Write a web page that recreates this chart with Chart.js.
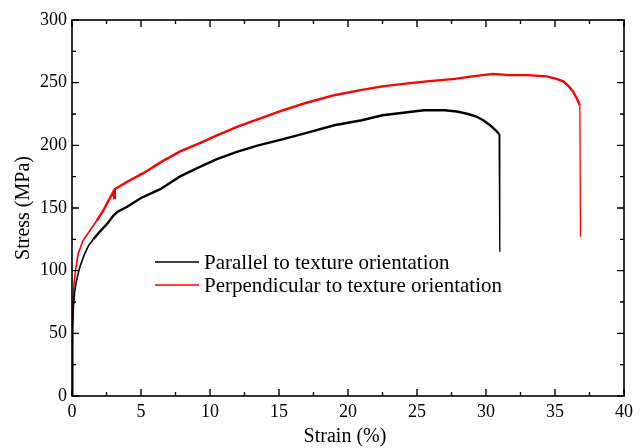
<!DOCTYPE html>
<html>
<head>
<meta charset="utf-8">
<script src="https://cdn.jsdelivr.net/npm/chart.js@4.4.0/dist/chart.umd.min.js"></script>
<style>
  html, body { margin: 0; padding: 0; background: #fff; }
  #wrap { width: 643px; height: 448px; }
</style>
</head>
<body>
<div id="wrap"><canvas id="chart" width="643" height="448"></canvas></div>
<script>
// Series (strain %, stress MPa)
const parallelStrain = [0, 0.03, 0.06, 0.1, 0.18, 0.29, 0.45, 0.6, 0.9, 1.2, 1.55, 2.0, 2.6, 3.0, 3.3, 4.0, 5.0, 6.4, 7.8, 9.3, 10.5, 12.0, 13.5, 15.3, 17.0, 19.0, 21.0, 22.5, 24.0, 25.5, 27.0, 27.9, 28.7, 29.3, 29.8, 30.3, 30.7, 30.95, 31.0];
const parallelStress = [0, 30, 55, 71, 82, 90, 98, 104, 113, 120, 125, 131, 138, 144, 147, 151, 158, 165, 175, 183, 189, 195, 200, 205, 210, 216, 220, 224, 226, 228, 228, 227, 225, 223, 220, 216, 212, 209, 115];

const perpStrain = [0, 0.03, 0.08, 0.15, 0.25, 0.46, 0.8, 1.3, 1.8, 2.27, 2.7, 3.0, 3.05, 3.1, 4.0, 5.2, 6.5, 7.8, 9.3, 10.5, 12.0, 13.5, 15.3, 17.0, 19.0, 20.9, 22.5, 24.0, 25.7, 27.75, 29.0, 30.5, 31.7, 33.0, 34.4, 35.1, 35.6, 36.0, 36.3, 36.6, 36.8, 36.85];
const perpStress = [0, 40, 75, 90, 100, 114, 124, 132, 140, 148, 157, 163, 158, 165, 171, 178, 187, 195, 202, 208, 215, 221, 228, 234, 240, 244, 247, 249, 251, 253, 255, 257, 256, 256, 255, 253, 251, 247, 243, 237, 232, 127];

const seriesNames = ['Parallel to texture orientation', 'Perpendicular to texture orientation'];
const seriesColors = ['#000000', '#ff0000'];

const xTitle = 'Strain (%)';
const yTitle = 'Stress (MPa)';

const FONT = "'Liberation Serif', 'Times New Roman', serif";
Chart.defaults.font.family = FONT;
Chart.defaults.color = '#000';

function toPoints(xs, ys) {
    return xs.map((x, i) => ({ x: x, y: ys[i] }));
}

// thin line for the elastic start and the fracture drop, thicker for the noisy part
function segWidth(ctx) {
    const a = ctx.p0.parsed, b = ctx.p1.parsed;
    if (Math.abs(b.x - a.x) < 0.08 && Math.abs(b.y - a.y) > 40) return 1.3;
    if (a.x < 1.5) return 1.6;
    return 2.4;
}

// frame, inward ticks (major + minor) on all four sides, titles and legend
const framePlugin = {
    id: 'frame',
    afterDraw(chart) {
        const c = chart.ctx;
        const area = chart.chartArea;
        const xs = chart.scales.x, ys = chart.scales.y;
        c.save();
        c.strokeStyle = '#000';
        c.lineWidth = 1.6;
        c.strokeRect(area.left, area.top, area.right - area.left, area.bottom - area.top);

        const major = 7, minor = 4;
        c.lineWidth = 1.4;
        c.beginPath();
        const xt = xs.ticks.map(t => t.value);
        xt.forEach((v, i) => {
            const px = xs.getPixelForValue(v);
            c.moveTo(px, area.bottom); c.lineTo(px, area.bottom - major);
            c.moveTo(px, area.top); c.lineTo(px, area.top + major);
            if (i < xt.length - 1) {
                const mx = xs.getPixelForValue((v + xt[i + 1]) / 2);
                c.moveTo(mx, area.bottom); c.lineTo(mx, area.bottom - minor);
                c.moveTo(mx, area.top); c.lineTo(mx, area.top + minor);
            }
        });
        const yt = ys.ticks.map(t => t.value);
        yt.forEach((v, i) => {
            const py = ys.getPixelForValue(v);
            c.moveTo(area.left, py); c.lineTo(area.left + major, py);
            c.moveTo(area.right, py); c.lineTo(area.right - major, py);
            if (i < yt.length - 1) {
                const my = ys.getPixelForValue((v + yt[i + 1]) / 2);
                c.moveTo(area.left, my); c.lineTo(area.left + minor, my);
                c.moveTo(area.right, my); c.lineTo(area.right - minor, my);
            }
        });
        c.stroke();

        // axis titles
        c.fillStyle = '#000';
        c.font = '20px ' + FONT;
        c.textAlign = 'center';
        c.textBaseline = 'middle';
        c.fillText(xTitle, (area.left + area.right) / 2 - 3, 437);
        c.translate(24, (area.top + area.bottom) / 2);
        c.rotate(-Math.PI / 2);
        c.fillText(yTitle, 0, 0);
        c.restore();

        // legend inside the plot
        c.save();
        c.font = '21px ' + FONT;
        c.textAlign = 'left';
        c.textBaseline = 'middle';
        chart.data.datasets.forEach((ds, i) => {
            const y = 262 + i * 23;
            c.strokeStyle = ds.borderColor;
            c.lineWidth = 1.3;
            c.beginPath();
            c.moveTo(155, y); c.lineTo(199, y);
            c.stroke();
            c.fillStyle = '#000';
            c.fillText(ds.label, 204, y + 1);
        });
        c.restore();
    }
};

new Chart(document.getElementById('chart'), {
    type: 'scatter',
    data: {
        datasets: [
            {
                label: seriesNames[0],
                data: toPoints(parallelStrain, parallelStress),
                borderColor: seriesColors[0],
                showLine: true,
                pointRadius: 0,
                borderWidth: 2.4,
                tension: 0,
                segment: { borderWidth: segWidth }
            },
            {
                label: seriesNames[1],
                data: toPoints(perpStrain, perpStress),
                borderColor: seriesColors[1],
                showLine: true,
                pointRadius: 0,
                borderWidth: 2.4,
                tension: 0,
                segment: { borderWidth: segWidth }
            }
        ]
    },
    options: {
        responsive: false,
        animation: false,
        layout: { padding: { top: 20, right: 19, left: 0, bottom: 0 } },
        plugins: {
            legend: { display: false },
            tooltip: { enabled: false }
        },
        scales: {
            x: {
                type: 'linear',
                min: 0,
                max: 40,
                grid: { display: false, drawTicks: false },
                border: { display: false },
                ticks: {
                    stepSize: 5,
                    color: '#000',
                    padding: 5,
                    maxRotation: 0,
                    font: { family: FONT, size: 18 }
                },
                afterFit(scale) { scale.height = 52; }
            },
            y: {
                min: 0,
                max: 300,
                grid: { display: false, drawTicks: false },
                border: { display: false },
                ticks: {
                    stepSize: 50,
                    color: '#000',
                    padding: 5,
                    font: { family: FONT, size: 18 }
                },
                afterFit(scale) { scale.width = 72; }
            }
        }
    },
    plugins: [framePlugin]
});
</script>
</body>
</html>
